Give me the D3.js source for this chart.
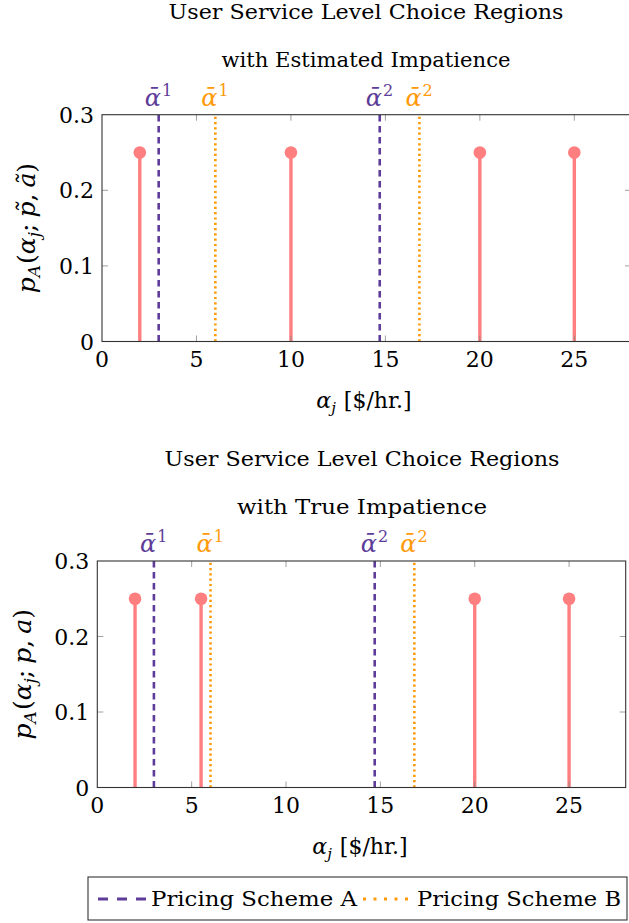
<!DOCTYPE html>
<html><head><meta charset="utf-8">
<script src="https://cdn.jsdelivr.net/npm/d3@7"></script>
<style>
body{margin:0;background:#fff}
svg{display:block}
text{font-family:"DejaVu Serif",serif;fill:#000}
</style></head>
<body><svg id="c" width="629" height="923"></svg>
<script>
// ---- data ----
const xTicks = [0, 5, 10, 15, 20, 25];
const yTicks = [0, 0.1, 0.2, 0.3];
const yTickLabels = ["0", "0.1", "0.2", "0.3"];
const xDomain = [0, 28];
const yDomain = [0, 0.3];
const estAlpha = [2, 10, 20, 25];
const estProb = [0.25, 0.25, 0.25, 0.25];
const trueAlpha = [2, 5.5, 20, 25];
const trueProb = [0.25, 0.25, 0.25, 0.25];
const schemeA = [3, 14.7];
const schemeB = [6, 16.8];
const thresholdSup = ["1", "2"];
const titlesEst = ["User Service Level Choice Regions", "with Estimated Impatience"];
const titlesTrue = ["User Service Level Choice Regions", "with True Impatience"];
const legendLabels = ["Pricing Scheme A", "Pricing Scheme B"];

const COL_A = "#5e3c99", COL_B = "#ff9a0a", COL_STEM = "#ff7f80";
const svg = d3.select("#c");

function fitWidth(sel, w) {
  sel.attr("textLength", w).attr("lengthAdjust", "spacingAndGlyphs");
}

function panel(cfg) {
  const x = d3.scaleLinear().domain(xDomain).range([cfg.left, cfg.right]);
  const y = d3.scaleLinear().domain(yDomain).range([cfg.bottom, cfg.top]);
  const g = svg.append("g");

  // titles
  g.append("text").attr("x", cfg.titleX).attr("y", cfg.titleY[0]).attr("text-anchor", "middle")
    .style("font-size", "20px").text(cfg.titles[0]).call(fitWidth, 395);
  g.append("text").attr("x", cfg.titleX).attr("y", cfg.titleY[1]).attr("text-anchor", "middle")
    .style("font-size", "20px").text(cfg.titles[1]).call(fitWidth, cfg.title2W);

  // threshold lines
  const thr = [];
  schemeA.forEach((v, i) => thr.push({v, col: COL_A, dash: "6.5,4.5", sup: thresholdSup[i]}));
  schemeB.forEach((v, i) => thr.push({v, col: COL_B, dash: "2.2,3.1", sup: thresholdSup[i]}));
  g.selectAll(".thr").data(thr).enter().append("line")
    .attr("x1", d => x(d.v)).attr("x2", d => x(d.v))
    .attr("y1", y(0)).attr("y2", y(0.3))
    .attr("stroke", d => d.col).attr("stroke-width", 2.6).attr("stroke-dasharray", d => d.dash);

  // threshold labels
  thr.forEach(d => {
    const t = g.append("text").attr("x", x(d.v) - 14).attr("y", cfg.labelY)
      .attr("text-anchor", "start").style("font-size", "24px").style("fill", d.col);
    t.append("tspan").style("font-style", "italic").style("fill", d.col).text("ᾱ");
    t.append("tspan").attr("dx", 1).attr("dy", -10).style("font-size", "16px").style("fill", d.col).text(d.sup);
  });

  // stems
  const pts = cfg.alpha.map((a, i) => ({a, p: cfg.prob[i]}));
  g.selectAll(".stem").data(pts).enter().append("line")
    .attr("x1", d => x(d.a)).attr("x2", d => x(d.a))
    .attr("y1", y(0)).attr("y2", d => y(d.p))
    .attr("stroke", COL_STEM).attr("stroke-width", 3.4);
  g.selectAll(".dot").data(pts).enter().append("circle")
    .attr("cx", d => x(d.a)).attr("cy", d => y(d.p)).attr("r", 6.3)
    .attr("fill", COL_STEM);

  // ticks (inside)
  g.selectAll(".xtb").data(xTicks.filter(t => t > 0)).enter().append("line")
    .attr("x1", d => x(d)).attr("x2", d => x(d)).attr("y1", y(0)).attr("y2", y(0) - 6)
    .attr("stroke", "#888").attr("stroke-width", 0.8);
  g.selectAll(".xtt").data(xTicks.filter(t => t > 0)).enter().append("line")
    .attr("x1", d => x(d)).attr("x2", d => x(d)).attr("y1", y(0.3)).attr("y2", y(0.3) + 6)
    .attr("stroke", "#888").attr("stroke-width", 0.8);
  g.selectAll(".ytl").data(yTicks.slice(1, -1)).enter().append("line")
    .attr("x1", cfg.left).attr("x2", cfg.left + 6).attr("y1", d => y(d)).attr("y2", d => y(d))
    .attr("stroke", "#888").attr("stroke-width", 0.8);
  g.selectAll(".ytr").data(yTicks.slice(1, -1)).enter().append("line")
    .attr("x1", cfg.right).attr("x2", cfg.right - 6).attr("y1", d => y(d)).attr("y2", d => y(d))
    .attr("stroke", "#888").attr("stroke-width", 0.8);

  // frame
  g.append("rect").attr("x", cfg.left).attr("y", cfg.top)
    .attr("width", cfg.right - cfg.left).attr("height", cfg.bottom - cfg.top)
    .attr("fill", "none").attr("stroke", "#333").attr("stroke-width", 1.1);

  // tick labels
  g.selectAll(".xl").data(xTicks).enter().append("text")
    .attr("x", d => x(d)).attr("y", y(0) + 25).attr("text-anchor", "middle")
    .style("font-size", "22px").text(d => d);
  g.selectAll(".yl").data(yTicks).enter().append("text")
    .attr("x", cfg.left - 8).attr("y", d => y(d) + 8).attr("text-anchor", "end")
    .style("font-size", "22px").text((d, i) => yTickLabels[i]);

  // x label
  const xl = g.append("text").attr("x", cfg.titleX - 2).attr("y", y(0) + 66).attr("text-anchor", "middle")
    .style("font-size", "22px");
  xl.append("tspan").style("font-style", "italic").text("α");
  xl.append("tspan").attr("dy", 5).style("font-size", "15px").style("font-style", "italic").text("j");
  xl.append("tspan").attr("dy", -5).attr("dx", 8).text("[$/hr.]");

  // y label
  const yl = g.append("text")
    .attr("transform", `translate(${cfg.ylabX},${(cfg.top + cfg.bottom) / 2}) rotate(-90)`)
    .attr("text-anchor", "middle").style("font-size", "25px");
  yl.append("tspan").style("font-style", "italic").text("p");
  yl.append("tspan").attr("dy", 5).style("font-size", "17px").style("font-style", "italic").text("A");
  yl.append("tspan").attr("dy", -5).attr("dx", 1).text("(");
  yl.append("tspan").style("font-style", "italic").text("α");
  yl.append("tspan").attr("dy", 5).style("font-size", "17px").style("font-style", "italic").text("j");
  yl.append("tspan").attr("dy", -5).text(";");
  yl.append("tspan").attr("dx", 6).style("font-style", "italic").text(cfg.ylabP);
  yl.append("tspan").text(",");
  yl.append("tspan").attr("dx", 6).style("font-style", "italic").text(cfg.ylabA);
  yl.append("tspan").text(")");
}

panel({left: 102, right: 631, top: 114.7, bottom: 341.5, titleX: 366,
  titleY: [19, 67], title2W: 289, labelY: 106, ylabX: 35,
  alpha: estAlpha, prob: estProb, titles: titlesEst, ylabP: "p̃", ylabA: "ã"});
panel({left: 97.3, right: 625.7, top: 561, bottom: 787.5, titleX: 362,
  titleY: [466, 514], title2W: 250, labelY: 552, ylabX: 31,
  alpha: trueAlpha, prob: trueProb, titles: titlesTrue, ylabP: "p", ylabA: "a"});

// legend
const lg = svg.append("g");
lg.append("rect").attr("x", 88).attr("y", 877).attr("width", 539).attr("height", 43)
  .attr("fill", "#fff").attr("stroke", "#333").attr("stroke-width", 1.1);
const legItems = [
  {label: legendLabels[0], col: COL_A, dash: "10,9", x0: 98, x1: 146, tx: 151, tw: 206},
  {label: legendLabels[1], col: COL_B, dash: "3,7.5", x0: 363, x1: 410, tx: 417, tw: 204}
];
legItems.forEach(d => {
  lg.append("line").attr("x1", d.x0).attr("x2", d.x1).attr("y1", 899).attr("y2", 899)
    .attr("stroke", d.col).attr("stroke-width", 2.8).attr("stroke-dasharray", d.dash);
  lg.append("text").attr("x", d.tx).attr("y", 906).style("font-size", "20px")
    .text(d.label).call(fitWidth, d.tw);
});
</script></body></html>
